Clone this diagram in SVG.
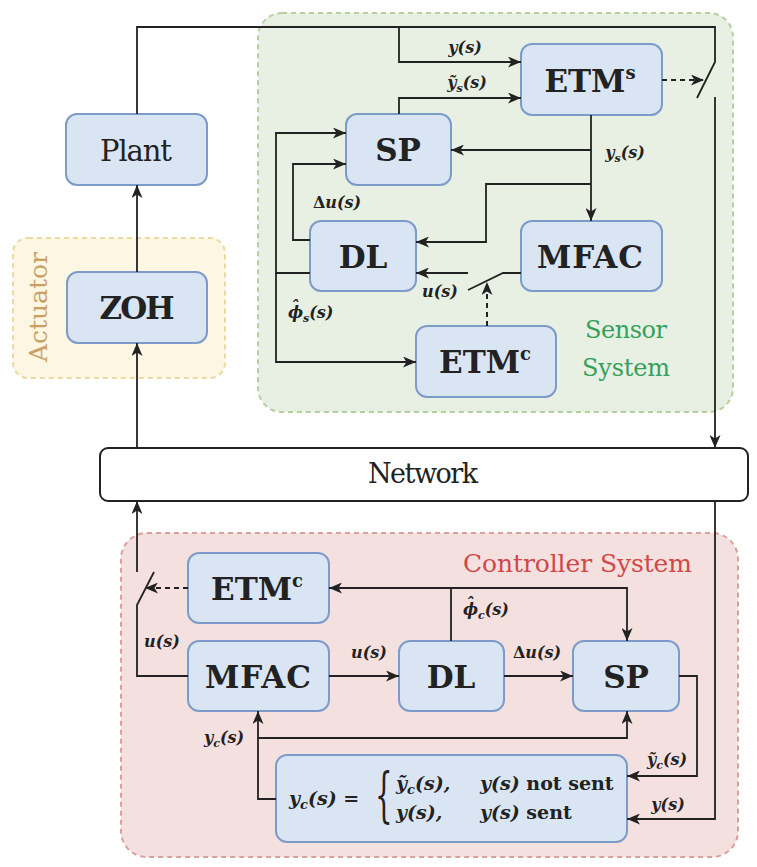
<svg xmlns="http://www.w3.org/2000/svg" width="757" height="867" viewBox="0 0 757 867">
<defs>
<marker id="ah" markerUnits="userSpaceOnUse" markerWidth="14" markerHeight="11" refX="13" refY="5.5" orient="auto">
<path d="M0,0 L13,5.5 L0,11 L3.5,5.5 Z" fill="#222"/>
</marker>
<style>
text{font-family:"DejaVu Serif","Liberation Serif",serif}
.grp{stroke-dasharray:5 4;stroke-width:2}
.node{fill:#dae5f3;stroke:#7d9bc8;stroke-width:2}
.b{font-weight:bold;font-size:31px;fill:#222;text-anchor:middle}
.r{font-size:29px;fill:#222;text-anchor:middle}
.m{font-weight:bold;font-style:italic;font-size:16px;fill:#222;text-anchor:middle}
.ms{font-weight:bold;font-style:italic;font-size:16px;fill:#222}
.f{font-weight:bold;font-style:italic;font-size:19px;fill:#222}
.up{font-style:normal}
.sub{font-size:11px}
.w{fill:none;stroke:#222;stroke-width:1.8}
.a{marker-end:url(#ah)}
.d{stroke-dasharray:5 4;stroke-width:2}
</style>
</defs>
<rect width="757" height="867" fill="#fff"/>
<g id="actuator-group">
<rect x="13" y="238" width="212" height="140" rx="15" fill="#fdf6e3" stroke="#ecd9a0" class="grp"/>
<text transform="translate(47,307) rotate(-90)" x="0" y="0" font-size="25" fill="#c9a063" text-anchor="middle" textLength="110">Actuator</text>
</g>
<g id="sensor-group">
<rect x="258" y="13" width="475" height="399" rx="24" fill="#e8f0e4" stroke="#b6cf9e" class="grp"/>
<text x="626" y="338" font-size="24" fill="#35a05e" text-anchor="middle" textLength="82">Sensor</text>
<text x="626" y="376" font-size="24" fill="#35a05e" text-anchor="middle" textLength="88">System</text>
</g>
<g id="controller-group">
<rect x="121" y="533" width="617" height="324" rx="26" fill="#f5e0e0" stroke="#d9a19b" class="grp"/>
<text x="463" y="572" font-size="25" fill="#d04848" textLength="229">Controller System</text>
</g>
<g id="network">
<rect x="100" y="448" width="648" height="53" rx="8" fill="#fff" stroke="#222" stroke-width="2"/>
<text x="423" y="483" font-size="27" fill="#222" text-anchor="middle" textLength="110">Network</text>
</g>
<g id="plant"><rect class="node" x="66" y="114" width="141" height="71" rx="11"/><text class="r" x="136" y="161" textLength="72">Plant</text></g>
<g id="zoh"><rect class="node" x="67" y="272" width="140" height="71" rx="11"/><text class="b" x="137" y="319" textLength="75">ZOH</text></g>
<g id="etm-s"><rect class="node" x="521" y="44" width="141" height="71" rx="11"/><text class="b" x="590" y="92">ETM<tspan font-size="18" dy="-13">s</tspan></text></g>
<g id="sp-s"><rect class="node" x="346" y="114" width="105" height="71" rx="11"/><text class="b" x="398" y="161">SP</text></g>
<g id="dl-s"><rect class="node" x="310" y="221" width="106" height="70" rx="11"/><text class="b" x="363" y="268">DL</text></g>
<g id="mfac-s"><rect class="node" x="521" y="221" width="141" height="70" rx="11"/><text class="b" x="590" y="268" textLength="106">MFAC</text></g>
<g id="etmc-s"><rect class="node" x="416" y="326" width="140" height="71" rx="11"/><text class="b" x="485" y="373">ETM<tspan font-size="18" dy="-13">c</tspan></text></g>
<g id="etmc-c"><rect class="node" x="188" y="553" width="141" height="70" rx="11"/><text class="b" x="257" y="600">ETM<tspan font-size="18" dy="-13">c</tspan></text></g>
<g id="mfac-c"><rect class="node" x="188" y="641" width="141" height="70" rx="11"/><text class="b" x="258" y="688" textLength="106">MFAC</text></g>
<g id="dl-c"><rect class="node" x="399" y="641" width="105" height="70" rx="11"/><text class="b" x="451" y="688">DL</text></g>
<g id="sp-c"><rect class="node" x="573" y="641" width="106" height="70" rx="11"/><text class="b" x="626" y="688">SP</text></g>
<g id="selector">
<rect class="node" x="276" y="755" width="351" height="87" rx="11"/>
<text class="f" x="289" y="805">y<tspan font-size="13" dy="4">c</tspan><tspan dy="-4">(s) </tspan><tspan class="up">=</tspan></text>
<text x="0" y="0" font-size="46" fill="#222" transform="translate(375,815) scale(0.6,1.3)">{</text>
<text class="f" x="396" y="790">ỹ<tspan font-size="13" dy="4">c</tspan><tspan dy="-4">(s),</tspan></text>
<text class="f" x="480" y="790">y(s) <tspan class="up">not sent</tspan></text>
<text class="f" x="396" y="819">y(s),</text>
<text class="f" x="480" y="819">y(s) <tspan class="up">sent</tspan></text>
</g>
<g id="connectors">
<path class="w" d="M137,114 V27 H715 V62 L697,98"/>
<path class="w a" d="M715,97 V448"/>
<path class="w a" d="M399,27 V62 H521"/>
<path class="w a" d="M399,114 V98 H521"/>
<path class="w a" d="M591,115 V221"/>
<path class="w a" d="M591,150 H451"/>
<path class="w a" d="M591,184 H486 V242 H416"/>
<path class="w a d" d="M662,80 H704"/>
<path class="w" d="M521,273 H503 L468,290"/>
<path class="w a" d="M468,273 H416"/>
<path class="w a d" d="M487,326 V282"/>
<path class="w a" d="M310,240 H293 V164 H346"/>
<path class="w a" d="M310,273 H276 V133 H346"/>
<path class="w a" d="M276,273 V362 H416"/>
<path class="w a" d="M137,448 V343"/>
<path class="w a" d="M137,272 V185"/>
<path class="w a" d="M137,572 V501"/>
<path class="w" d="M154,572 L137,605 V676 H188"/>
<path class="w a d" d="M188,588 H145"/>
<path class="w a" d="M451,641 V588 H329"/>
<path class="w a" d="M451,588 H627 V641"/>
<path class="w a" d="M329,676 H399"/>
<path class="w a" d="M504,676 H573"/>
<path class="w a" d="M679,676 H697 V776 H627"/>
<path class="w a" d="M715,501 V819 H627"/>
<path class="w a" d="M276,799 H258 V711"/>
<path class="w a" d="M258,738 H627 V711"/>
</g>
<g id="labels">
<text class="m" x="465" y="53">y(s)</text>
<text class="m" x="467" y="88">ỹ<tspan class="sub" dy="4">s</tspan><tspan dy="-4">(s)</tspan></text>
<text class="m" x="625" y="158">y<tspan class="sub" dy="4">s</tspan><tspan dy="-4">(s)</tspan></text>
<text class="m" x="337" y="208"><tspan class="up">Δ</tspan>u(s)</text>
<text class="m" x="440" y="297">u(s)</text>
<text class="ms" x="288" y="318">ϕ<tspan class="sub" dy="4">s</tspan><tspan dy="-4">(s)</tspan><tspan x="291" y="312">ˆ</tspan></text>
<text class="m" x="162" y="647">u(s)</text>
<text class="m" x="369" y="658">u(s)</text>
<text class="m" x="537" y="658"><tspan class="up">Δ</tspan>u(s)</text>
<text class="ms" x="463" y="615">ϕ<tspan class="sub" dy="4">c</tspan><tspan dy="-4">(s)</tspan><tspan x="466" y="609">ˆ</tspan></text>
<text class="m" x="224" y="743">y<tspan class="sub" dy="4">c</tspan><tspan dy="-4">(s)</tspan></text>
<text class="m" x="667" y="765">ỹ<tspan class="sub" dy="4">c</tspan><tspan dy="-4">(s)</tspan></text>
<text class="m" x="668" y="810">y(s)</text>
</g>
</svg>
